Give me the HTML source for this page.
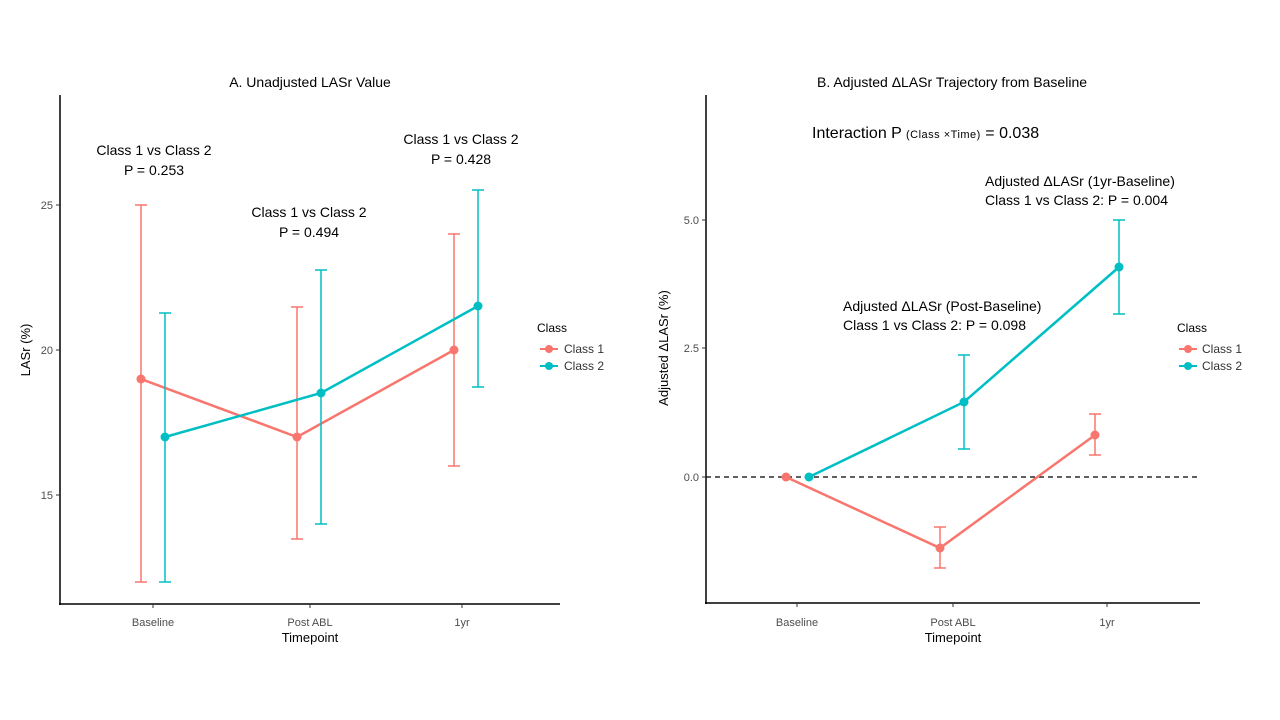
<!DOCTYPE html>
<html><head><meta charset="utf-8"><style>
body{margin:0;background:#fff;}
svg{display:block;font-family:"Liberation Sans",sans-serif;}
</style></head><body>
<svg width="1280" height="720" xmlns="http://www.w3.org/2000/svg">
<rect width="1280" height="720" fill="#fff"/>
<!-- Panel A -->
<text x="310" y="87" font-size="14" text-anchor="middle" fill="#000">A. Unadjusted LASr Value</text>
<line x1="60" y1="95" x2="60" y2="605" stroke="#000" stroke-width="1.5"/>
<line x1="59" y1="604" x2="560" y2="604" stroke="#000" stroke-width="1.5"/>
<g stroke="#333" stroke-width="1">
<line x1="56" y1="205" x2="60" y2="205"/><line x1="56" y1="350" x2="60" y2="350"/><line x1="56" y1="495" x2="60" y2="495"/>
<line x1="153" y1="604" x2="153" y2="608"/><line x1="310" y1="604" x2="310" y2="608"/><line x1="462" y1="604" x2="462" y2="608"/>
</g>
<g font-size="11" fill="#4d4d4d" text-anchor="end">
<text x="53" y="209">25</text><text x="53" y="354">20</text><text x="53" y="499">15</text></g>
<g font-size="11" fill="#4d4d4d" text-anchor="middle">
<text x="153" y="626">Baseline</text><text x="310" y="626">Post ABL</text><text x="462" y="626">1yr</text></g>
<text x="310" y="642" font-size="13" text-anchor="middle">Timepoint</text>
<text transform="translate(30,350) rotate(-90)" font-size="13" text-anchor="middle">LASr (%)</text>
<g stroke="#F8766D" stroke-width="1.5" fill="none">
<path d="M141 205V582M135 205H147M135 582H147"/>
<path d="M297 307V539M291 307H303M291 539H303"/>
<path d="M454 234V466M448 234H460M448 466H460"/>
<polyline points="141,379 297,437 454,350" stroke-width="2.5"/></g>
<g fill="#F8766D"><circle cx="141" cy="379" r="4.5"/><circle cx="297" cy="437" r="4.5"/><circle cx="454" cy="350" r="4.5"/></g>
<g stroke="#00BFC4" stroke-width="1.5" fill="none">
<path d="M165 313V582M159 313H171M159 582H171"/>
<path d="M321 270V524M315 270H327M315 524H327"/>
<path d="M478 190V387M472 190H484M472 387H484"/>
<polyline points="165,437 321,393 478,306" stroke-width="2.5"/></g>
<g fill="#00BFC4"><circle cx="165" cy="437" r="4.5"/><circle cx="321" cy="393" r="4.5"/><circle cx="478" cy="306" r="4.5"/></g>
<g font-size="14" text-anchor="middle" fill="#000">
<text x="154" y="155">Class 1 vs Class 2</text><text x="154" y="175">P = 0.253</text>
<text x="309" y="217">Class 1 vs Class 2</text><text x="309" y="237">P = 0.494</text>
<text x="461" y="144">Class 1 vs Class 2</text><text x="461" y="164">P = 0.428</text></g>
<text x="537" y="332" font-size="12">Class</text>
<line x1="540" y1="349" x2="558" y2="349" stroke="#F8766D" stroke-width="2"/><circle cx="549" cy="349" r="4" fill="#F8766D"/>
<line x1="540" y1="366" x2="558" y2="366" stroke="#00BFC4" stroke-width="2"/><circle cx="549" cy="366" r="4" fill="#00BFC4"/>
<text x="564" y="353" font-size="12" fill="#333">Class 1</text><text x="564" y="370" font-size="12" fill="#333">Class 2</text>
<!-- Panel B -->
<text x="952" y="87" font-size="14" text-anchor="middle">B. Adjusted ΔLASr Trajectory from Baseline</text>
<line x1="706" y1="95" x2="706" y2="604" stroke="#000" stroke-width="1.5"/>
<line x1="705" y1="603" x2="1200" y2="603" stroke="#000" stroke-width="1.5"/>
<g stroke="#333"><line x1="702" y1="220" x2="706" y2="220"/><line x1="702" y1="348" x2="706" y2="348"/><line x1="702" y1="477" x2="706" y2="477"/>
<line x1="797" y1="603" x2="797" y2="607"/><line x1="953" y1="603" x2="953" y2="607"/><line x1="1107" y1="603" x2="1107" y2="607"/></g>
<g font-size="11" fill="#4d4d4d" text-anchor="end"><text x="699" y="224">5.0</text><text x="699" y="352">2.5</text><text x="699" y="481">0.0</text></g>
<g font-size="11" fill="#4d4d4d" text-anchor="middle"><text x="797" y="626">Baseline</text><text x="953" y="626">Post ABL</text><text x="1107" y="626">1yr</text></g>
<text x="953" y="642" font-size="13" text-anchor="middle">Timepoint</text>
<text transform="translate(668,348) rotate(-90)" font-size="13" text-anchor="middle">Adjusted ΔLASr (%)</text>
<line x1="706" y1="477" x2="1200" y2="477" stroke="#000" stroke-width="1.3" stroke-dasharray="5,4"/>
<g stroke="#F8766D" stroke-width="1.5" fill="none">
<path d="M940 527V568M934 527H946M934 568H946"/>
<path d="M1095 414V455M1089 414H1101M1089 455H1101"/>
<polyline points="786,477 940,548 1095,435" stroke-width="2.5"/></g>
<g fill="#F8766D"><circle cx="786" cy="477" r="4.5"/><circle cx="940" cy="548" r="4.5"/><circle cx="1095" cy="435" r="4.5"/></g>
<g stroke="#00BFC4" stroke-width="1.5" fill="none">
<path d="M964 355V449M958 355H970M958 449H970"/>
<path d="M1119 220V314M1113 220H1125M1113 314H1125"/>
<polyline points="809,477 964,402 1119,267" stroke-width="2.5"/></g>
<g fill="#00BFC4"><circle cx="809" cy="477" r="4.5"/><circle cx="964" cy="402" r="4.5"/><circle cx="1119" cy="267" r="4.5"/></g>
<text x="812" y="138" font-size="16">Interaction P <tspan font-size="11" letter-spacing="0.5">(Class ×Time)</tspan> = 0.038</text>
<g font-size="14"><text x="985" y="186">Adjusted ΔLASr (1yr-Baseline)</text><text x="985" y="205">Class 1 vs Class 2: P = 0.004</text>
<text x="843" y="311">Adjusted ΔLASr (Post-Baseline)</text><text x="843" y="330">Class 1 vs Class 2: P = 0.098</text></g>
<text x="1177" y="332" font-size="12">Class</text>
<line x1="1179" y1="349" x2="1197" y2="349" stroke="#F8766D" stroke-width="2"/><circle cx="1188" cy="349" r="4" fill="#F8766D"/>
<line x1="1179" y1="366" x2="1197" y2="366" stroke="#00BFC4" stroke-width="2"/><circle cx="1188" cy="366" r="4" fill="#00BFC4"/>
<text x="1202" y="353" font-size="12" fill="#333">Class 1</text><text x="1202" y="370" font-size="12" fill="#333">Class 2</text>
</svg>
</body></html>
